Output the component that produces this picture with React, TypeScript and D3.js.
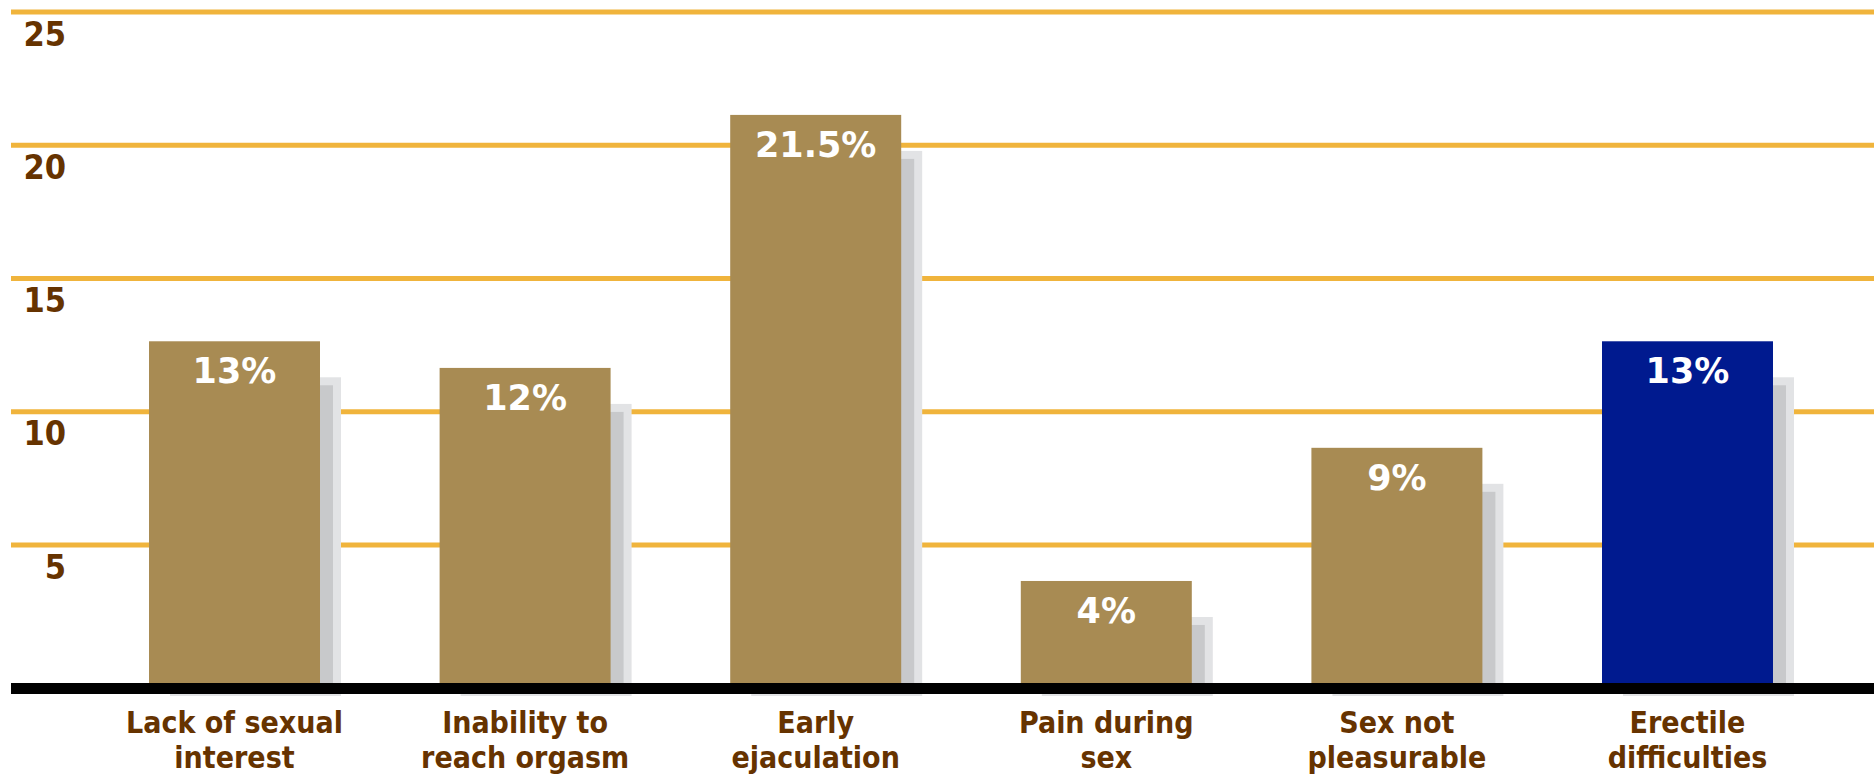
import React from "react";
import * as d3 from "d3";

const categories: string[][] = [
  ["Lack of sexual", "interest"],
  ["Inability to", "reach orgasm"],
  ["Early", "ejaculation"],
  ["Pain during", "sex"],
  ["Sex not", "pleasurable"],
  ["Erectile", "difficulties"],
];
const values: number[] = [13, 12, 21.5, 4, 9, 13];
const valueLabels: string[] = ["13%", "12%", "21.5%", "4%", "9%", "13%"];
const highlighted: boolean[] = [false, false, false, false, false, true];
const yTicks: number[] = [25, 20, 15, 10, 5];

const W = 1874;
const H = 774;
const BROWN = "#a88b53";
const BLUE = "#001a8f";
const GRID = "#f0b43c";
const TEXT = "#663300";
const SH_LIGHT = "#e2e3e5";
const SH_DARK = "#c8c9cb";

export default function App() {
  const keys = categories.map((c) => c.join(" "));
  const step = 290.6;
  const x = d3
    .scaleBand<string>()
    .domain(keys)
    .range([234.5 - step / 2, 234.5 - step / 2 + step * keys.length])
    .paddingInner(0.4116)
    .paddingOuter(0.2058);
  const y = d3.scaleLinear().domain([0, 25]).range([687.5, 21.7]);
  const gridY = d3.scaleLinear().domain([5, 25]).range([545, 12]);
  const bw = x.bandwidth();
  const font = "'DejaVu Sans Condensed', 'DejaVu Sans', sans-serif";

  return (
    <svg
      width={W}
      height={H}
      style={{ position: "absolute", left: 0, top: 0, background: "#fff" }}
    >
      {yTicks.map((t) => (
        <g key={t}>
          <line
            x1={11}
            x2={W}
            y1={gridY(t)}
            y2={gridY(t)}
            stroke={GRID}
            strokeWidth={5}
          />
          <text
            x={66}
            y={gridY(t) + 33.5}
            textAnchor="end"
            fontFamily={font}
            fontStretch="condensed"
            fontWeight="bold"
            fontSize={34}
            fill={TEXT}
          >
            {t}
          </text>
        </g>
      ))}
      {values.map((v, i) => {
        const x0 = x(keys[i]) as number;
        const top = y(v);
        return (
          <g key={keys[i]}>
            <rect
              x={x0 + 21}
              y={top + 36}
              width={bw}
              height={696 - (top + 36)}
              fill={SH_LIGHT}
            />
            <rect
              x={x0 + 13}
              y={top + 44}
              width={bw}
              height={692 - (top + 44)}
              fill={SH_DARK}
            />
            <rect
              x={x0}
              y={top}
              width={bw}
              height={y(0) - top}
              fill={highlighted[i] ? BLUE : BROWN}
            />
            <text
              x={x0 + bw / 2}
              y={top + 42}
              textAnchor="middle"
              fontFamily="'DejaVu Sans', sans-serif"
              fontWeight="bold"
              fontSize={35}
              fill="#ffffff"
            >
              {valueLabels[i]}
            </text>
          </g>
        );
      })}
      <line x1={11} x2={W} y1={688.5} y2={688.5} stroke="#000" strokeWidth={11} />
      {categories.map((lines, i) => (
        <text
          key={keys[i]}
          textAnchor="middle"
          fontFamily={font}
          fontStretch="condensed"
          fontWeight="bold"
          fontSize={30}
          fill={TEXT}
        >
          {lines.map((ln, j) => (
            <tspan key={j} x={(x(keys[i]) as number) + bw / 2} y={733 + j * 35}>
              {ln}
            </tspan>
          ))}
        </text>
      ))}
    </svg>
  );
}
